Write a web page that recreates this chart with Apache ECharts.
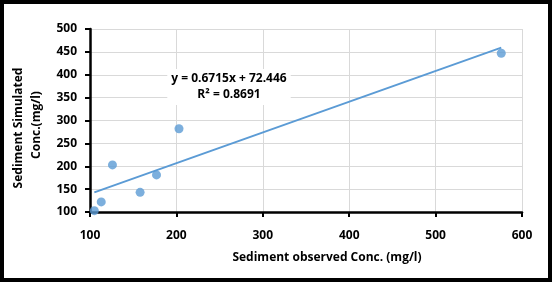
<!DOCTYPE html>
<html>
<head>
<meta charset="utf-8">
<script src="https://cdn.jsdelivr.net/npm/echarts@6/dist/echarts.min.js"></script>
<style>
  html, body { margin: 0; padding: 0; background: #fff; }
  #wrap { position: relative; width: 552px; height: 282px; }
  #main { width: 552px; height: 282px; }
  #frame { position: absolute; left: 0; top: 0; width: 552px; height: 282px;
           box-sizing: border-box; border: 4px solid #000; pointer-events: none; }
</style>
</head>
<body>
<div id="wrap">
  <div id="main"></div>
  <div id="frame"></div>
</div>
<script>
// observed vs simulated sediment (mg/l)
var observed  = [105, 113, 126, 158, 177, 203, 576];
var simulated = [103, 122, 203, 143, 181, 282, 447];

// trendline from the chart's equation
var slope = 0.6715;
var intercept = 72.446;
var eqText = 'y = 0.6715x + 72.446';
var r2Text = 'R² = 0.8691';

var xTicks = { min: 100, max: 600, interval: 100 };
var yTicks = { min: 100, max: 500, interval: 50 };

var points = observed.map(function (v, i) { return [v, simulated[i]]; });
var xMin = Math.min.apply(null, observed);
var xMax = Math.max.apply(null, observed);
var trend = [[xMin, slope * xMin + intercept], [xMax, slope * xMax + intercept]];

var myChart = echarts.init(document.getElementById('main'));

var font = '"Open Sans", sans-serif';
var boldText = { color: '#000', fontWeight: 'bold', fontSize: 12, fontFamily: font };

var option = {
    animation: false,
    backgroundColor: '#fff',
    title: {
        text: eqText,
        subtext: r2Text,
        left: 225,
        top: 69,
        textAlign: 'center',
        itemGap: 4,
        padding: [4, 4, 4, 4],
        backgroundColor: '#fff',
        textStyle: boldText,
        subtextStyle: boldText
    },
    grid: { left: 90, right: 30, top: 29, bottom: 70 },
    xAxis: {
        type: 'value', min: xTicks.min, max: xTicks.max, interval: xTicks.interval,
        axisLine: { show: true, lineStyle: { color: '#000', width: 2.5 } },
        axisTick: { show: true, length: 5, lineStyle: { color: '#000', width: 2 } },
        axisLabel: { color: '#000', fontWeight: 'bold', fontSize: 12, fontFamily: font, margin: 18 },
        splitLine: { show: true, lineStyle: { color: '#d9d9d9' } }
    },
    yAxis: {
        type: 'value', min: yTicks.min, max: yTicks.max, interval: yTicks.interval,
        axisLine: { show: true, lineStyle: { color: '#000', width: 2.5 } },
        axisTick: { show: true, length: 5, lineStyle: { color: '#000', width: 2 } },
        axisLabel: { color: '#000', fontWeight: 'bold', fontSize: 12, fontFamily: font, margin: 13 },
        splitLine: { show: true, lineStyle: { color: '#d9d9d9' } }
    },
    // axis titles
    graphic: [
        {
            type: 'text', x: 327, y: 258,
            style: { text: 'Sediment observed Conc. (mg/l)', fill: '#000', font: 'bold 12px ' + font,
                     align: 'center', verticalAlign: 'middle' }
        },
        {
            type: 'text', x: 19, y: 128, rotation: Math.PI / 2,
            style: { text: 'Sediment Simulated', fill: '#000', font: 'bold 12px ' + font,
                     align: 'center', verticalAlign: 'middle' }
        },
        {
            type: 'text', x: 37, y: 125, rotation: Math.PI / 2,
            style: { text: 'Conc.(mg/l)', fill: '#000', font: 'bold 12px ' + font,
                     align: 'center', verticalAlign: 'middle' }
        }
    ],
    series: [
        {
            name: 'trend', type: 'line', data: trend,
            symbol: 'none',
            lineStyle: { color: '#5b9bd5', width: 2 }
        },
        {
            name: 'data', type: 'scatter', data: points,
            symbolSize: 9,
            itemStyle: { color: '#5b9bd5' }
        }
    ]
};

myChart.setOption(option);
</script>
</body>
</html>
